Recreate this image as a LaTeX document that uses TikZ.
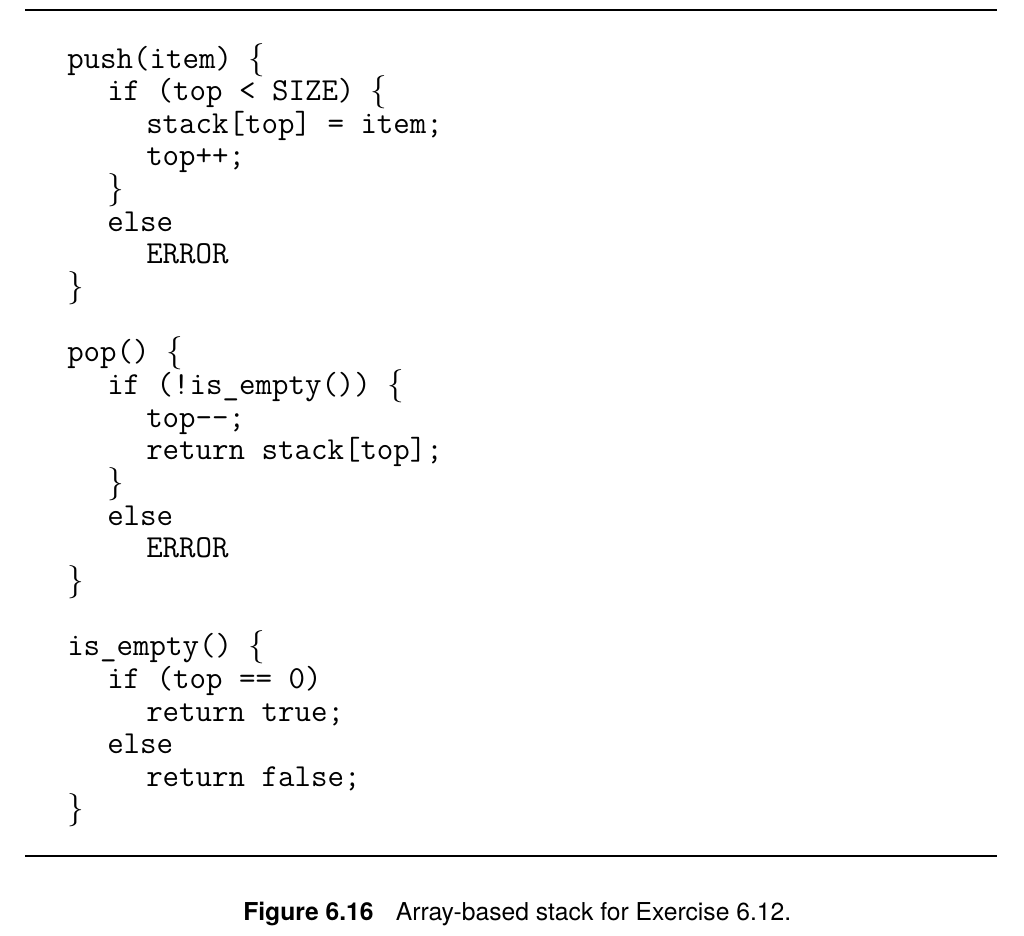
\documentclass[tikz,border=0pt]{standalone}
\usepackage{fontspec}
\newfontfamily\capfont{TeX Gyre Heros}
\begin{document}
\begin{tikzpicture}[x=0.75pt,y=-0.75pt,
  code/.style={anchor=base west,inner sep=0pt,font=\fontsize{24}{24}\ttfamily},
  rule/.style={line width=2.2pt}]
\useasboundingbox (0,0) rectangle (1024,935);
\coordinate (tl) at (25,10); \coordinate (tr) at (997,10);
\coordinate (bl) at (25,856); \coordinate (br) at (997,856);
\draw[rule] (tl) -- (tr);
\draw[rule] (bl) -- (br);
\def\ls{32.65}
\def\a{67}\def\b{107}\def\c{146}
\foreach \n/\x/\t in {
 0/\a/{push(item) $\{$},
 1/\b/{if (top < SIZE) $\{$},
 2/\c/{stack[top] = item;},
 3/\c/{top++;},
 4/\b/{$\}$},
 5/\b/{else},
 6/\c/{ERROR},
 7/\a/{$\}$},
 9/\a/{pop() $\{$},
 10/\b/{if (!is\_empty()) $\{$},
 11/\c/{top--;},
 12/\c/{return stack[top];},
 13/\b/{$\}$},
 14/\b/{else},
 15/\c/{ERROR},
 16/\a/{$\}$},
 18/\a/{is\_empty() $\{$},
 19/\b/{if (top == 0)},
 20/\c/{return true;},
 21/\b/{else},
 22/\c/{return false;},
 23/\a/{$\}$}}
 {\node[code] (l\n) at (\x,68+\n*\ls) {\t};}
\node[anchor=base west,inner sep=0pt,font=\capfont\fontsize{18.5}{18.5}\selectfont] (cap) at (243,920)
  {\textbf{Figure 6.16}\hspace{0.9em}Array-based stack for Exercise 6.12.};
\end{tikzpicture}
\end{document}
